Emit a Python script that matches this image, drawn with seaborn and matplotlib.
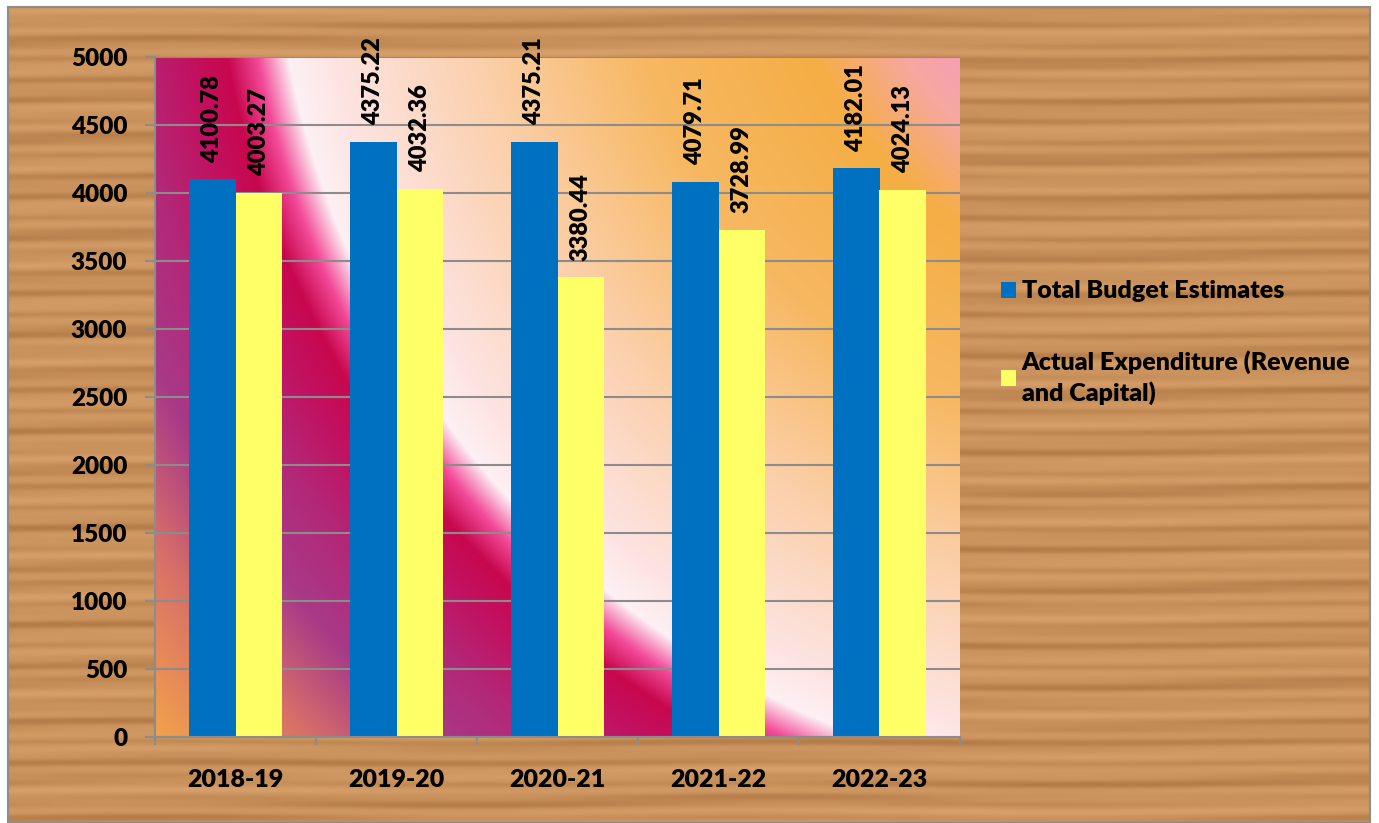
import numpy as np
import pandas as pd
import matplotlib
matplotlib.use('Agg')
import matplotlib.pyplot as plt
import seaborn as sns
from matplotlib.colors import LinearSegmentedColormap

sns.set_theme(style='white')
plt.rcParams['font.family'] = ['Lato', 'DejaVu Sans']
plt.rcParams['font.weight'] = 'bold'

years = ['2018-19', '2019-20', '2020-21', '2021-22', '2022-23']
budget = [4100.78, 4375.22, 4375.21, 4079.71, 4182.01]
actual = [4003.27, 4032.36, 3380.44, 3728.99, 4024.13]
series = ['Total Budget Estimates', 'Actual Expenditure (Revenue\nand Capital)']
colors = ['#0070C0', '#FFFF66']

df = pd.DataFrame({
    'year': years * 2,
    'value': budget + actual,
    'series': [series[0]] * len(years) + [series[1]] * len(years),
})

W, H = 1379, 823
fig = plt.figure(figsize=(W / 100, H / 100), dpi=100, facecolor='white')

# wood-like panel behind everything (soft horizontal grain)
bg = fig.add_axes([8 / W, 0, (1370 - 8) / W, (H - 7) / H], zorder=-5)
yy = np.arange(H - 7)[:, None]
xx = np.arange(1362)[None, :]
grain = (0.55 + 0.18 * np.sin(yy / 3.1 + 0.8 * np.sin(xx / 97.0))
         + 0.12 * np.sin(yy / 7.7 + xx / 260.0) + 0.08 * np.sin(yy / 1.7))
wood = LinearSegmentedColormap.from_list('wood', ['#a8703f', '#c8905a', '#d9a26c'])
bg.imshow(np.clip(grain, 0, 1), cmap=wood, vmin=0, vmax=1, aspect='auto',
          interpolation='bilinear')
bg.set_xticks([])
bg.set_yticks([])
for s in bg.spines.values():
    s.set_color('#8c8c8c')
    s.set_linewidth(1.5)

ax = fig.add_axes([155 / W, 86 / H, 805 / W, 680 / H])
ax.patch.set_alpha(0)

# radial gradient fill of plot area (pixel coords, y down)
px = np.arange(155, 960)
py = np.arange(57, 737)
gx, gy = np.meshgrid(px, py)
r = np.hypot(gx - 1177, gy + 112)
r0, r1 = 250, 1340
stops = [(250, '#f59ac0'), (320, '#f6a8a0'), (400, '#f5ae45'), (560, '#f7b862'),
         (720, '#fbd0ac'), (860, '#fde4e2'), (905, '#fdf0f4'), (935, '#f24a98'),
         (965, '#c8084e'), (1000, '#c31060'), (1060, '#b32878'), (1130, '#a83a88'),
         (1215, '#d87068'), (1340, '#f5a848')]
cmap = LinearSegmentedColormap.from_list(
    'bg', [((v - r0) / (r1 - r0), c) for v, c in stops], N=2048)
ax.imshow(np.clip((r - r0) / (r1 - r0), 0, 1), cmap=cmap, vmin=0, vmax=1,
          extent=(-0.5, 4.5, 0, 5000), origin='upper', aspect='auto',
          zorder=0, interpolation='bilinear')

sns.barplot(data=df, x='year', y='value', hue='series', palette=colors,
            width=0.58, saturation=1, ax=ax, zorder=2, linewidth=0,
            edgecolor='none')

for cont in ax.containers:
    labels = ax.bar_label(cont, fmt='%.2f', rotation=90, padding=12,
                          fontsize=17, color='black')
    for t in labels:
        t.set_fontweight('heavy')

ax.set_xlim(-0.5, 4.5)
ax.set_ylim(0, 5000)
ax.set_yticks(np.arange(0, 5001, 500))
ax.yaxis.grid(True, color='#8c8c8c', linewidth=1.5, zorder=1)
ax.set_axisbelow(True)
ax.set_xlabel('')
ax.set_ylabel('')

for s in ['top', 'right']:
    ax.spines[s].set_visible(False)
for s in ['left', 'bottom']:
    ax.spines[s].set_color('#8c8c8c')
    ax.spines[s].set_linewidth(1.5)

ax.set_xticks(np.arange(-0.5, 5, 1), minor=True)
ax.tick_params(axis='x', which='major', length=0, pad=23, labelsize=18)
ax.tick_params(axis='x', which='minor', length=6, width=1.5, color='#8c8c8c',
               direction='out', bottom=True)
ax.tick_params(axis='y', length=7, width=1.5, color='#8c8c8c', direction='out',
               left=True, pad=13, labelsize=17.5)
for lab in ax.get_xticklabels() + ax.get_yticklabels():
    lab.set_fontweight('heavy')
    lab.set_color('black')

sns.move_legend(ax, loc='upper left', bbox_to_anchor=(978 / W, 1 - 258 / H),
                bbox_transform=fig.transFigure, frameon=False, title=None,
                handlelength=0.6, handleheight=0.6,
                handletextpad=0.25, labelspacing=1.9, prop={'weight': 'heavy', 'size': 18})
leg = ax.get_legend()
for t in leg.get_texts():
    t.set_linespacing(1.4)
    t.set_color('black')

fig.savefig('out.png', dpi=100, facecolor='white')
